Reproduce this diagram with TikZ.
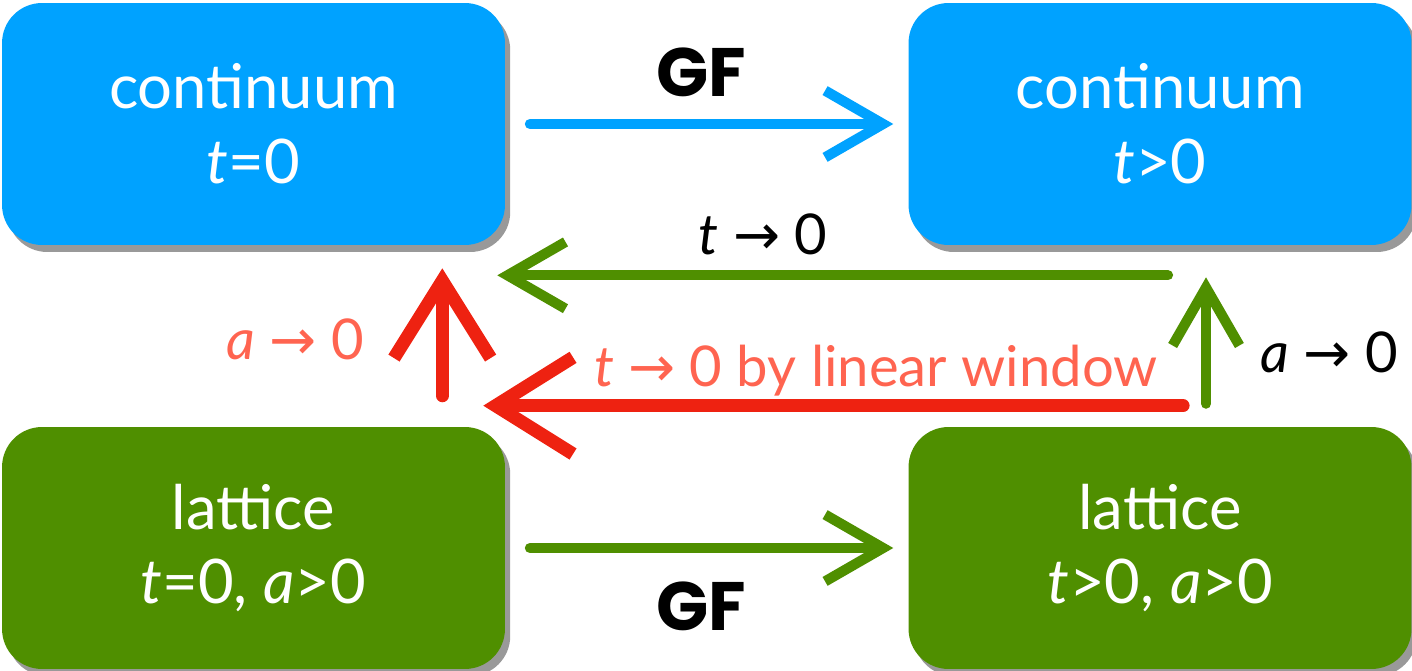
\documentclass[tikz,border=0pt]{standalone}
\usepackage{fontspec}
\setmainfont{Lato}
\newfontfamily\arrfont{DejaVu Sans}
\newfontfamily\gffont{Poppins}
\usetikzlibrary{arrows.meta,shadows,calc}
\definecolor{boxblue}{HTML}{00A2FF}
\definecolor{boxgreen}{HTML}{4F8F00}
\definecolor{arrred}{HTML}{EE2211}
\definecolor{lblred}{HTML}{FF6450}
\newcommand{\myto}{{\arrfont →}}
\begin{document}
\begin{tikzpicture}[x=0.02cm,y=-0.02cm,
  box/.style={rounded corners=0.8cm, minimum width=10.06cm, minimum height=4.84cm,
    text=white, align=center, inner sep=0pt, font=\fontsize{35}{42.5}\selectfont,
    drop shadow={shadow xshift=3pt, shadow yshift=-4pt, opacity=0.4, fill=black}},
  bluebox/.style={box, fill=boxblue},
  greenbox/.style={box, fill=boxgreen},
  lbl/.style={anchor=base, inner sep=0pt, font=\fontsize{32}{38}\selectfont},
  gflbl/.style={anchor=base, inner sep=0pt, font=\gffont\bfseries\fontsize{39}{46}\selectfont},
  chalk/.style={line width=5.8pt, line cap=round, line join=round},
  headA/.style={-{Straight Barb[length=33pt,width=38pt,line width=5.8pt]}},
  headB/.style={-{Straight Barb[length=44pt,width=55pt,line width=7.5pt]}},
]
\useasboundingbox (0,0) rectangle (1412,671);
\node[bluebox] (c0) at (253.5,124) {continuum\\\textit{t}=0};
\node[bluebox] (ct) at (1160,124) {continuum\\\textit{t}>0};
\node[greenbox] (l0) at (253.5,548) {lattice\\\textit{t}=0, \textit{a}>0};
\node[greenbox] (lt) at (1160,548) {lattice\\\textit{t}>0, \textit{a}>0};

% GF top
\draw[chalk, headA, draw=boxblue, shorten <=14pt, shorten >=8.5pt] (c0.east) -- (ct.west);
\node[gflbl] (gf1) at (701,97) {GF};

% green t->0
\draw[chalk, headA, draw=boxgreen] ($(ct.south)+(8,30)$) -- ($(c0.south east)+(-8,30)$);
\node[lbl] (tl) at (763,255) {\textit{t} \myto{} 0};

% red up
\draw[chalk, headB, draw=arrred, line width=7.5pt] ($(l0.north east)+(-63,-31)$) -- ($(c0.south east)+(-63,23)$);
\node[lbl, text=lblred] (al) at (295,360) {\textit{a} \myto{} 0};

% red left
\draw[chalk, headB, draw=arrred, line width=7.5pt] ($(lt.north)+(23,-21)$) -- ($(l0.north east)+(-22,-21)$);
\node[lbl, text=lblred] (rl) at (876,387) {\textit{t} \myto{} 0 by linear window};

% green up
\draw[chalk, headA, draw=boxgreen] ($(lt.north)+(46,-23)$) -- ($(ct.south)+(46,32)$);
\node[lbl] (ar) at (1329,373) {\textit{a} \myto{} 0};

% GF bottom
\draw[chalk, headA, draw=boxgreen, shorten <=14pt, shorten >=8.5pt] (l0.east) -- (lt.west);
\node[gflbl] (gf2) at (701,630) {GF};
\end{tikzpicture}
\end{document}
